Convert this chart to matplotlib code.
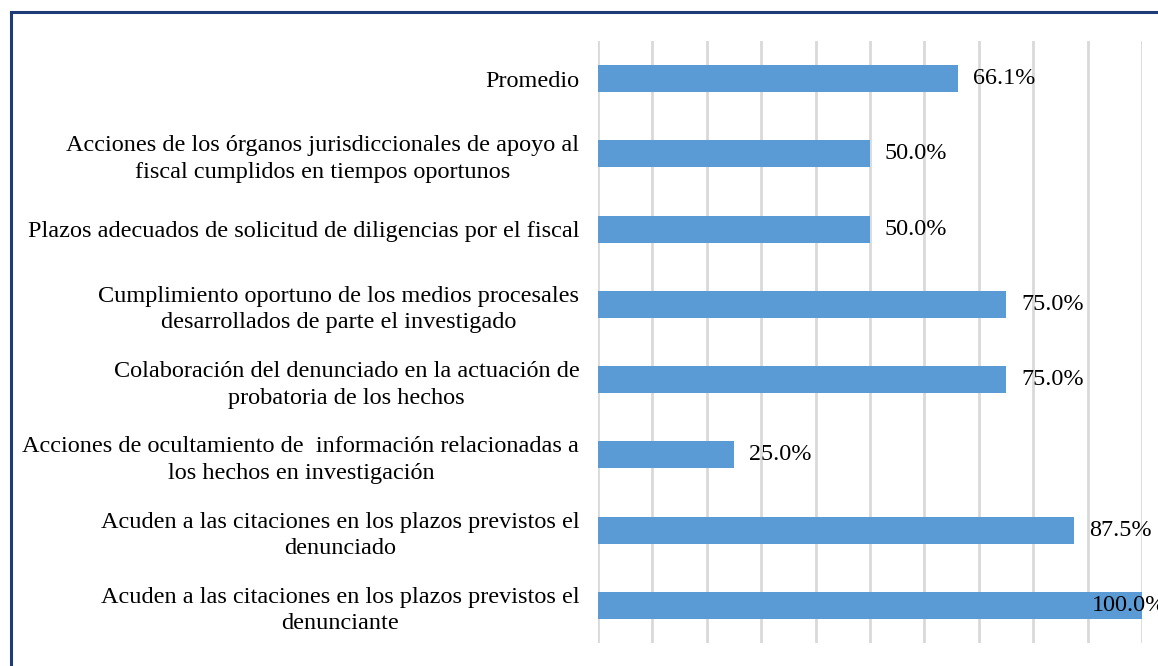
'''
Horizontal bar chart of compliance percentages per indicator
'''

import matplotlib.pyplot as plt
from matplotlib.lines import Line2D

categories = [
	'Promedio',
	'Acciones de los órganos jurisdiccionales de apoyo al\nfiscal cumplidos en tiempos oportunos',
	'Plazos adecuados de solicitud de diligencias por el fiscal',
	'Cumplimiento oportuno de los medios procesales\ndesarrollados de parte el investigado',
	'Colaboración del denunciado en la actuación de\nprobatoria de los hechos',
	'Acciones de ocultamiento de  información relacionadas a\nlos hechos en investigación',
	'Acuden a las citaciones en los plazos previstos el\ndenunciado',
	'Acuden a las citaciones en los plazos previstos el\ndenunciante',
]
values = [66.1, 50.0, 50.0, 75.0, 75.0, 25.0, 87.5, 100.0]

plt.rcParams['font.family'] = ['Liberation Serif', 'DejaVu Serif']

fig = plt.figure(figsize=(11.58, 6.66), dpi=100)
ax = fig.add_axes([598/1158, 23/666, 544/1158, 602/666])

ypos = list(range(len(categories)))
ax.barh(ypos, values, height=0.36, color='#5B9BD5', zorder=2)

ax.set_xlim(0, 100)
ax.set_ylim(len(categories) - 0.5, -0.5)
ax.set_xticks(range(0, 101, 10))
ax.set_xticklabels([])
ax.set_yticks(ypos)
ax.set_yticklabels(categories, fontsize=17.5, multialignment='center', linespacing=1.35)
ax.tick_params(axis='y', length=0, pad=13.5)
ax.tick_params(axis='x', length=0)
ax.grid(axis='x', color='#D9D9D9', linewidth=2)
ax.set_axisbelow(True)
for s in ax.spines.values():
	s.set_visible(False)

for y, v in zip(ypos, values):
	# Excel pulls the last label back inside the chart area
	dx = -50 if v >= 100 else 15
	ax.annotate(f'{v:.1f}%', (v, y), xytext=(dx, 0), textcoords='offset pixels',
		va='center', ha='left', fontsize=17.4, annotation_clip=False)

# partial frame around the chart (left and top only, as in the source)
border = '#1F3B77'
fig.add_artist(Line2D([11/1158, 11/1158], [0, 1 - 12/666], color=border, linewidth=2.2))
fig.add_artist(Line2D([11/1158, 1], [1 - 12/666, 1 - 12/666], color=border, linewidth=2.2))

fig.savefig('out.png', dpi=100)
